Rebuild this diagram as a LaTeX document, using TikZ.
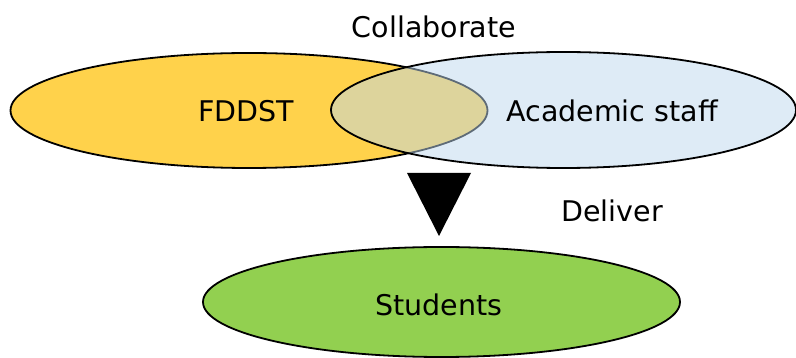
\documentclass[tikz,border=0pt]{standalone}
\usepackage{fontspec}
\setmainfont{DejaVu Sans}
\usetikzlibrary{shapes.geometric}
\definecolor{yel}{HTML}{FFD24B}
\definecolor{blu}{HTML}{BDD7EE}
\definecolor{grn}{HTML}{92D050}
\begin{document}
\begin{tikzpicture}[x=1pt,y=-1pt,
  ell/.style={ellipse,draw=black,line width=1.8pt,inner sep=0pt},
  lbl/.style={font=\fontsize{28.5}{34}\selectfont,inner sep=0pt,anchor=center}]
\useasboundingbox (0,0) rectangle (796,358);
\node[ell,fill=yel,minimum width=477pt,minimum height=115pt] (fd) at (249,110.5) {};
\node[ell,fill=blu,fill opacity=0.5,minimum width=465pt,minimum height=116pt] (ac) at (563.5,110) {};
\node[ell,fill=grn,minimum width=477pt,minimum height=110pt] (st) at (441.5,302) {};
\node[lbl] (collab) at (434,27) {Collaborate};
\node[lbl] (fdt) at (246,111) {FDDST};
\node[lbl] (act) at (612,111) {Academic staff};
\node[lbl] (del) at (612,211) {Deliver};
\node[lbl] (stt) at (439,305) {Students};
\coordinate (tl) at (407,173);
\coordinate (tr) at (471,173);
\coordinate (tip) at (439,236);
\fill[black] (tl) -- (tr) -- (tip) -- cycle;
\end{tikzpicture}
\end{document}
